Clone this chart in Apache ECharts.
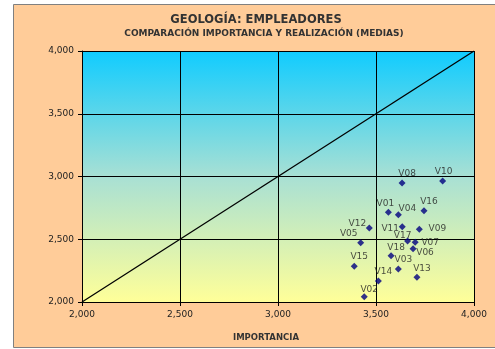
<!DOCTYPE html>
<html>
<head>
<meta charset="utf-8">
<script src="https://cdn.jsdelivr.net/npm/echarts@6/dist/echarts.min.js"></script>
<style>
html, body { margin: 0; padding: 0; background: #fff; }
#chart { width: 495px; height: 349px; }
</style>
</head>
<body>
<div id="chart"></div>
<script>
var names = ['V01', 'V02', 'V03', 'V04', 'V05', 'V06', 'V07', 'V08', 'V09',
	'V10', 'V11', 'V12', 'V13', 'V14', 'V15', 'V16', 'V17', 'V18'];
var importancia = [3.563, 3.440, 3.614, 3.614, 3.422, 3.689, 3.700, 3.633, 3.721,
	3.840, 3.634, 3.466, 3.709, 3.512, 3.389, 3.745, 3.661, 3.577];
var realizacion = [2.715, 2.042, 2.263, 2.696, 2.473, 2.425, 2.476, 2.948, 2.579,
	2.964, 2.600, 2.590, 2.197, 2.167, 2.284, 2.728, 2.486, 2.369];
var axisTicks = [2.0, 2.5, 3.0, 3.5, 4.0];

// where each data label sits relative to its point (px)
var labelOffset = {
	V01: [-3, -9], V02: [5, -7], V03: [5, -9], V04: [9, -6], V05: [-12, -9],
	V06: [12, 4], V07: [15, 0], V08: [5, -9], V09: [18, -1], V10: [1, -9],
	V11: [-12, 2], V12: [-12, -4], V13: [5, -9], V14: [5, -9], V15: [5, -10],
	V16: [5, -9], V17: [-5, -5], V18: [5, -8]
};

var chart = echarts.init(document.getElementById('chart'));

function fmt(v) {
	return v.toFixed(3).replace('.', ',');
}

var points = [];
for (var i = 0; i < names.length; i++) {
	points.push({
		name: names[i],
		value: [importancia[i], realizacion[i]],
		label: { offset: labelOffset[names[i]] }
	});
}

var axisStyle = {
	min: axisTicks[0],
	max: axisTicks[axisTicks.length - 1],
	interval: 0.5,
	axisLine: { show: true, lineStyle: { color: '#000', width: 1 } },
	axisTick: { show: true, inside: false, length: 4, lineStyle: { color: '#000' } },
	splitLine: { show: true, lineStyle: { color: '#000', width: 1 } },
	axisLabel: {
		color: '#222',
		fontFamily: 'DejaVu Sans',
		fontSize: 9,
		formatter: function(v) { return fmt(v); }
	}
};

var option = {
	backgroundColor: '#fff',
	animation: false,
	graphic: [{
		type: 'rect',
		shape: { x: 13.5, y: 4.5, width: 490, height: 343 },
		style: { fill: '#FFCC99', stroke: '#808080', lineWidth: 1 },
		z: -10
	}, {
		type: 'text',
		x: 256, y: 20,
		style: {
			text: 'GEOLOGÍA: EMPLEADORES',
			font: 'bold 11.5px "DejaVu Sans"',
			fill: '#333',
			align: 'center',
			verticalAlign: 'middle'
		}
	}, {
		type: 'text',
		x: 264, y: 34,
		style: {
			text: 'COMPARACIÓN IMPORTANCIA Y REALIZACIÓN (MEDIAS)',
			font: 'bold 9px "DejaVu Sans"',
			fill: '#333',
			align: 'center',
			verticalAlign: 'middle'
		}
	}, {
		type: 'text',
		x: 266, y: 338,
		style: {
			text: 'IMPORTANCIA',
			font: 'bold 8.5px "DejaVu Sans"',
			fill: '#333',
			align: 'center',
			verticalAlign: 'middle'
		}
	}],
	grid: {
		left: 82,
		right: 21,
		top: 51,
		bottom: 47,
		show: true,
		borderWidth: 0,
		backgroundColor: new echarts.graphic.LinearGradient(0, 0, 0, 1, [
			{ offset: 0, color: '#10CCFF' },
			{ offset: 0.5, color: '#A8E0D4' },
			{ offset: 1, color: '#FFFF99' }
		])
	},
	xAxis: Object.assign({ type: 'value' }, axisStyle),
	yAxis: Object.assign({ type: 'value' }, axisStyle),
	series: [{
		type: 'line',
		data: [[axisTicks[0], axisTicks[0]], [axisTicks[4], axisTicks[4]]],
		symbol: 'none',
		lineStyle: { color: '#000', width: 1.3 },
		silent: true
	}, {
		type: 'scatter',
		data: points,
		symbol: 'diamond',
		symbolSize: 7,
		itemStyle: { color: '#000080' },
		label: {
			show: true,
			position: 'inside',
			align: 'center',
			verticalAlign: 'middle',
			color: '#222',
			fontFamily: 'DejaVu Sans',
			fontSize: 9,
			formatter: function(p) { return p.name; }
		},
		z: 3
	}]
};
chart.setOption(option);
</script>
</body>
</html>
